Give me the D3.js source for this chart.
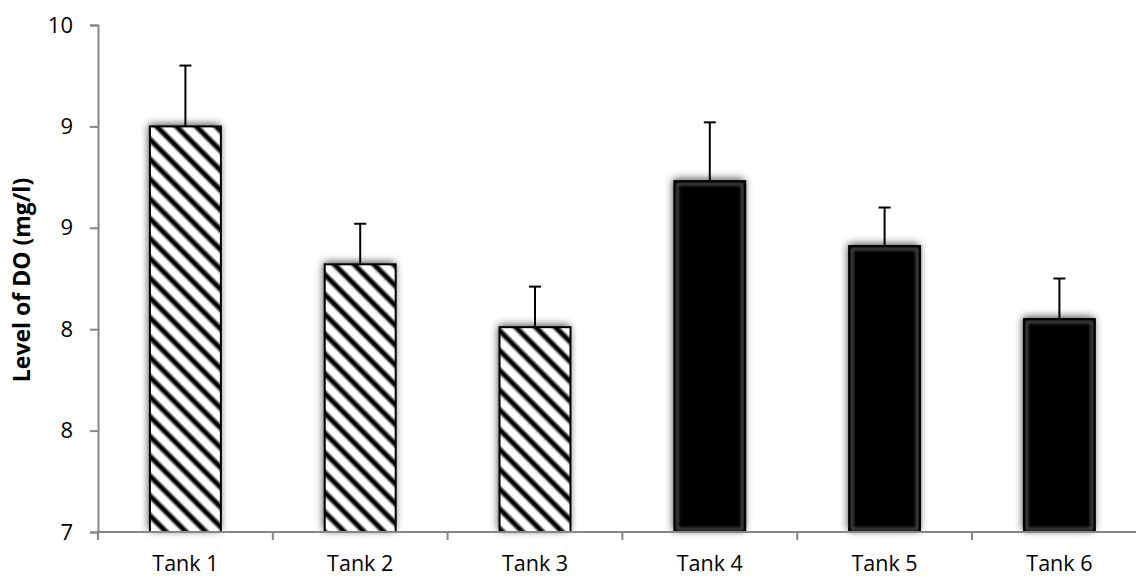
<!DOCTYPE html>
<html>
<head>
<meta charset="utf-8">
<script src="https://cdn.jsdelivr.net/npm/d3@7"></script>
<style>
  html, body { margin: 0; padding: 0; background: #fff; }
  svg { display: block; }
  text { font-family: "Open Sans", "Noto Sans", sans-serif; fill: #000; }
</style>
</head>
<body>
<svg id="chart" width="1136" height="576"></svg>
<script>
// ---- data ----
const categories = ["Tank 1", "Tank 2", "Tank 3", "Tank 4", "Tank 5", "Tank 6"];
const means      = [9.00, 8.32, 8.01, 8.73, 8.41, 8.05];
const errors     = [0.30, 0.20, 0.20, 0.29, 0.19, 0.20];
const fills      = ["hatch", "hatch", "hatch", "solid", "solid", "solid"];
const yTicks     = [7, 7.5, 8, 8.5, 9, 9.5];
const yTitle     = "Level of DO (mg/l)";

(function () {
const svg = d3.select("#chart");
const plotLeft = 98, plotBottom = 532, plotTop = 25;
const step = 174.8;

const x = d3.scaleBand().domain(categories)
  .range([plotLeft, plotLeft + step * categories.length])
  .paddingInner(0.594).paddingOuter(0.297);
const y = d3.scaleLinear().domain([7, 9.5]).range([plotBottom, plotTop]);

const defs = svg.append("defs");
// hatch pattern
const pat = defs.append("pattern").attr("id", "hatch")
  .attr("patternUnits", "userSpaceOnUse").attr("width", 14).attr("height", 14)
  .attr("patternTransform", "rotate(45)");
pat.append("rect").attr("width", 14).attr("height", 14).attr("fill", "#fff");
pat.append("rect").attr("x", 0).attr("y", 3.0).attr("width", 14).attr("height", 1.4).attr("fill", "#aaa");
pat.append("rect").attr("x", 0).attr("y", 4.4).attr("width", 14).attr("height", 4.4).attr("fill", "#000");
pat.append("rect").attr("x", 0).attr("y", 8.8).attr("width", 14).attr("height", 1.4).attr("fill", "#aaa");

// outer shadow
const sh = defs.append("filter").attr("id", "shadow")
  .attr("x", "-40%").attr("y", "-40%").attr("width", "180%").attr("height", "180%");
sh.append("feGaussianBlur").attr("in", "SourceAlpha").attr("stdDeviation", 4.5).attr("result", "b");
sh.append("feOffset").attr("in", "b").attr("dx", -1).attr("dy", -2).attr("result", "o");
sh.append("feComponentTransfer").attr("in", "o").attr("result", "t")
  .append("feFuncA").attr("type", "linear").attr("slope", 0.75);
const m = sh.append("feMerge");
m.append("feMergeNode").attr("in", "t");
m.append("feMergeNode").attr("in", "SourceGraphic");

const glow = defs.append("filter").attr("id", "inglow");
glow.append("feGaussianBlur").attr("stdDeviation", 1.4);

const data = categories.map((c, i) => ({ c, v: means[i], e: errors[i], f: fills[i] }));

// bars
const bars = svg.append("g");
bars.selectAll("rect.bar").data(data).join("rect")
  .attr("class", "bar")
  .attr("x", d => x(d.c))
  .attr("y", d => y(d.v))
  .attr("width", x.bandwidth())
  .attr("height", d => y(7) - y(d.v))
  .attr("fill", d => d.f === "hatch" ? "url(#hatch)" : "#000")
  .attr("filter", "url(#shadow)");

// inner glow for solid bars
bars.selectAll("rect.glow").data(data.filter(d => d.f === "solid")).join("rect")
  .attr("class", "glow")
  .attr("x", d => x(d.c) + 3)
  .attr("y", d => y(d.v) + 3)
  .attr("width", x.bandwidth() - 6)
  .attr("height", d => y(7) - y(d.v) - 6)
  .attr("fill", "none").attr("stroke", "#555").attr("stroke-width", 2.5)
  .attr("filter", "url(#inglow)");

// borders
bars.selectAll("rect.border").data(data).join("rect")
  .attr("class", "border")
  .attr("x", d => x(d.c))
  .attr("y", d => y(d.v))
  .attr("width", x.bandwidth())
  .attr("height", d => y(7) - y(d.v))
  .attr("fill", "none").attr("stroke", "#000").attr("stroke-width", 2);

// error bars (positive only)
const eb = svg.append("g").attr("stroke", "#000").attr("stroke-width", 2);
eb.selectAll("line.v").data(data).join("line").attr("class", "v")
  .attr("x1", d => x(d.c) + x.bandwidth() / 2).attr("x2", d => x(d.c) + x.bandwidth() / 2)
  .attr("y1", d => y(d.v)).attr("y2", d => y(d.v + d.e));
eb.selectAll("line.cap").data(data).join("line").attr("class", "cap")
  .attr("x1", d => x(d.c) + x.bandwidth() / 2 - 6).attr("x2", d => x(d.c) + x.bandwidth() / 2 + 6)
  .attr("y1", d => y(d.v + d.e)).attr("y2", d => y(d.v + d.e));

// y axis
const yAxis = svg.append("g").attr("transform", `translate(${plotLeft},0)`)
  .call(d3.axisLeft(y).tickValues(yTicks).tickFormat(d => d.toFixed(0)).tickSize(8).tickPadding(17));
yAxis.select(".domain").attr("stroke", "#868686").attr("stroke-width", 2);
yAxis.selectAll(".tick line").attr("stroke", "#868686").attr("stroke-width", 2);
yAxis.selectAll(".tick text").attr("font-size", 22)
  .style("font-family", '"Open Sans", sans-serif');

// x axis
const xg = svg.append("g");
xg.append("line").attr("x1", plotLeft).attr("x2", x.range()[1]).attr("y1", plotBottom).attr("y2", plotBottom)
  .attr("stroke", "#868686").attr("stroke-width", 2);
const bounds = categories.map(c => x(c) + x.bandwidth() / 2 - x.step() / 2);
xg.selectAll("line.t").data(bounds).join("line").attr("class", "t")
  .attr("x1", d => d).attr("x2", d => d).attr("y1", plotBottom).attr("y2", plotBottom + 8)
  .attr("stroke", "#868686").attr("stroke-width", 2);
xg.selectAll("text").data(categories).join("text")
  .attr("x", d => x(d) + x.bandwidth() / 2).attr("y", 571)
  .attr("text-anchor", "middle").attr("font-size", 21.5).text(d => d);

// y title
svg.append("text")
  .attr("transform", `translate(30,280) rotate(-90)`)
  .attr("text-anchor", "middle").attr("font-size", 23).attr("font-weight", "bold")
  .text(yTitle);
})();
</script>
</body>
</html>
